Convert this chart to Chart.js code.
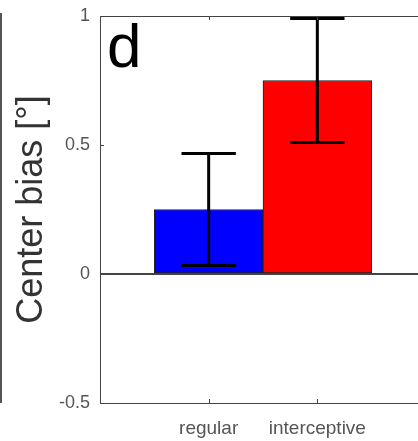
<!DOCTYPE html>
<html>
<head>
<meta charset="utf-8">
<script src="https://cdn.jsdelivr.net/npm/chart.js@4"></script>
<style>
    html, body { margin: 0; padding: 0; background: #fff; overflow: hidden; }
    #wrap { position: relative; width: 430px; height: 441px; }
    #neighbour { position: absolute; left: 0; top: 13px; width: 2px; height: 390px; background: #555; }
</style>
</head>
<body>
<div id="wrap">
    <div id="neighbour"></div>
    <canvas id="bias_canvas" width="430" height="441"></canvas>
</div>
<script>
// data
const categories = ["regular", "interceptive"];
const bias_values = [0.25, 0.75];
const bias_errors = [0.217, 0.24];
const bar_colors = ["#0000ff", "#ff0000"];
const y_ticks = [-0.5, 0, 0.5, 1];
const panel_letter = "d";

const axis_color = "#444";
const label_color = "#555";

// small inward tick marks, box top line and the panel letter
const box_plugin = {
    id: 'box_plugin',
    afterDraw(chart) {
        let ctx = chart.ctx;
        let area = chart.chartArea;
        let xs = chart.scales.x;
        let ys = chart.scales.y;
        ctx.save();
        ctx.strokeStyle = axis_color;
        ctx.lineWidth = 1;
        ctx.beginPath();
        ctx.moveTo(area.left, Math.round(area.top) + 0.5);
        ctx.lineTo(area.right, Math.round(area.top) + 0.5);
        categories.forEach((c, i) => {
            let px = Math.round(xs.getPixelForValue(i + 1)) + 0.5;
            ctx.moveTo(px, area.bottom);
            ctx.lineTo(px, area.bottom - 4);
            ctx.moveTo(px, area.top);
            ctx.lineTo(px, area.top + 4);
        });
        y_ticks.forEach(v => {
            let py = Math.round(ys.getPixelForValue(v)) + 0.5;
            ctx.moveTo(area.left, py);
            ctx.lineTo(area.left + 4, py);
        });
        ctx.stroke();

        ctx.fillStyle = "#000";
        ctx.font = "62px 'Liberation Sans', Arial, sans-serif";
        ctx.textBaseline = "alphabetic";
        ctx.textAlign = "left";
        ctx.fillText(panel_letter, area.left + 7, area.top + 51);
        ctx.restore();
    }
};

// error bars drawn on top of the bars
const error_plugin = {
    id: 'error_plugin',
    afterDatasetsDraw(chart) {
        let ctx = chart.ctx;
        let xs = chart.scales.x;
        let ys = chart.scales.y;
        let meta = chart.getDatasetMeta(0);
        ctx.save();
        ctx.strokeStyle = "#000";
        ctx.lineWidth = 3;
        bias_values.forEach((v, i) => {
            let px = xs.getPixelForValue(i + 1);
            let hi = ys.getPixelForValue(v + bias_errors[i]);
            let lo = ys.getPixelForValue(v - bias_errors[i]);
            let cap = meta.data[i].width / 4;
            ctx.beginPath();
            ctx.moveTo(px, hi);
            ctx.lineTo(px, lo);
            ctx.moveTo(px - cap, hi);
            ctx.lineTo(px + cap, hi);
            ctx.moveTo(px - cap, lo);
            ctx.lineTo(px + cap, lo);
            ctx.stroke();
        });
        ctx.restore();
    }
};

let bias_plot;

function setup_bias_plot() {
    let data = {
        datasets: [
            {
                label: "Center bias",
                data: bias_values.map((v, i) => ({ x: i + 1, y: v })),
                backgroundColor: bar_colors,
                borderColor: "#222",
                borderWidth: 1,
                borderSkipped: false,
                barPercentage: 1.0,
                categoryPercentage: 1.0
            }
        ]
    };

    let config = {
        type: 'bar',
        data: data,
        options: {
            responsive: false,
            animation: false,
            events: [],
            layout: {
                padding: { top: 16, right: 4, left: 0, bottom: 0 }
            },
            plugins: {
                legend: { display: false },
                tooltip: { enabled: false }
            },
            scales: {
                x: {
                    type: 'linear',
                    min: 0,
                    max: 3,
                    offset: false,
                    afterBuildTicks: scale => {
                        scale.ticks = categories.map((c, i) => ({ value: i + 1 }));
                    },
                    afterFit: scale => {
                        scale.height = 38;
                        scale.paddingLeft = 0;
                        scale.paddingRight = 0;
                    },
                    ticks: {
                        callback: (value) => categories[value - 1],
                        color: label_color,
                        font: { family: "'Liberation Sans', Arial, sans-serif", size: 19 },
                        padding: 14,
                        maxRotation: 0,
                        autoSkip: false
                    },
                    grid: { display: false, drawTicks: false },
                    border: { display: true, color: axis_color, width: 1 }
                },
                y: {
                    min: -0.5,
                    max: 1,
                    afterBuildTicks: scale => {
                        scale.ticks = y_ticks.map(v => ({ value: v }));
                    },
                    afterFit: scale => {
                        scale.width = 100;
                        scale.paddingTop = 0;
                        scale.paddingBottom = 0;
                    },
                    ticks: {
                        callback: (value) => String(value),
                        color: label_color,
                        font: { family: "'Liberation Sans', Arial, sans-serif", size: 18 },
                        padding: 10
                    },
                    grid: {
                        drawTicks: false,
                        color: ctx => ctx.tick && ctx.tick.value === 0 ? axis_color : 'rgba(0,0,0,0)',
                        lineWidth: ctx => ctx.tick && ctx.tick.value === 0 ? 2 : 0
                    },
                    border: { display: true, color: axis_color, width: 1 },
                    title: {
                        display: true,
                        text: "Center bias [°]",
                        color: "#333",
                        font: { family: "'Liberation Sans', Arial, sans-serif", size: 36 },
                        padding: { top: 10, bottom: 0 }
                    }
                }
            }
        },
        plugins: [error_plugin, box_plugin]
    };

    bias_plot = new Chart(
        document.getElementById('bias_canvas'),
        config
    );
}

setup_bias_plot();
</script>
</body>
</html>
